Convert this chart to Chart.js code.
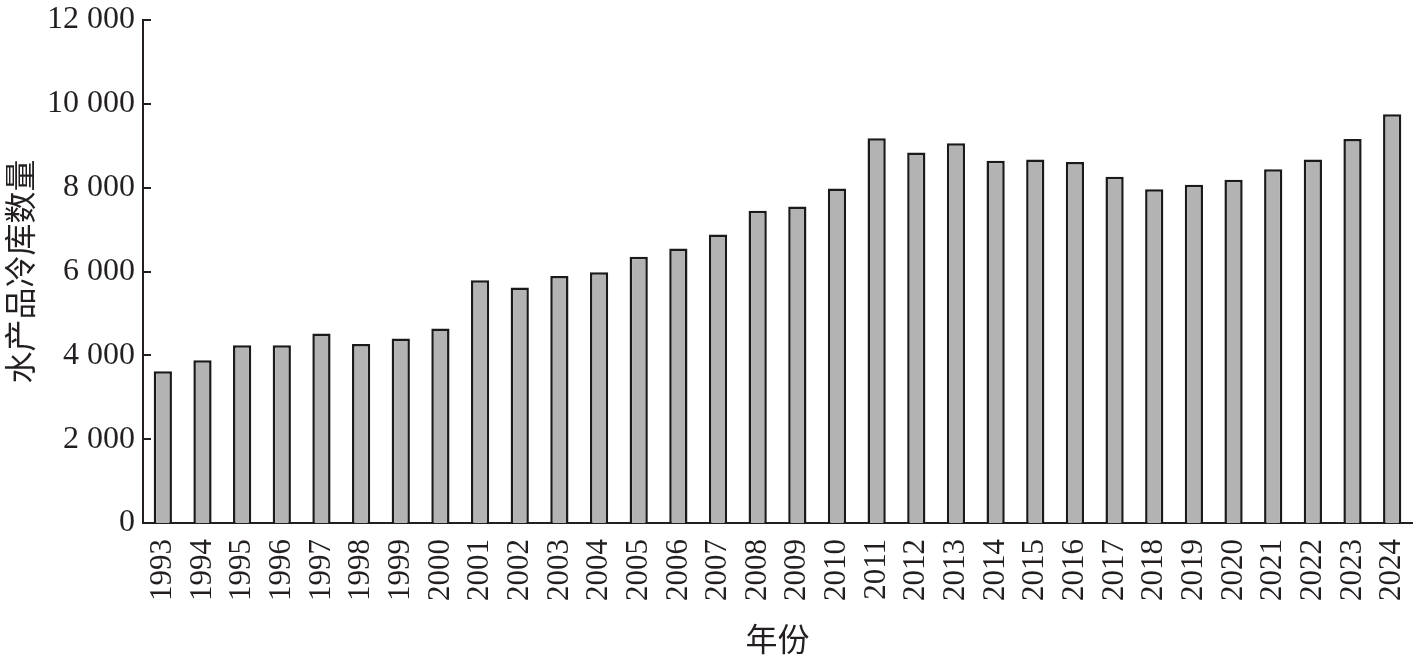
<!DOCTYPE html>
<html>
<head>
<meta charset="utf-8">
<script src="https://cdn.jsdelivr.net/npm/chart.js@4"></script>
<style>
  html, body { margin: 0; padding: 0; background: #fff; }
  #wrap { width: 1414px; height: 662px; }
</style>
</head>
<body>
<div id="wrap"><canvas id="coldStorageChart" width="1414" height="662"></canvas></div>
<script>
const years = [
  '1993', '1994', '1995', '1996', '1997', '1998', '1999', '2000',
  '2001', '2002', '2003', '2004', '2005', '2006', '2007', '2008',
  '2009', '2010', '2011', '2012', '2013', '2014', '2015', '2016',
  '2017', '2018', '2019', '2020', '2021', '2022', '2023', '2024'
];
const storageCount = [
  3620, 3880, 4240, 4240, 4520, 4270, 4400, 4640,
  5790, 5620, 5890, 5980, 6350, 6550, 6880, 7450,
  7550, 7980, 9180, 8840, 9060, 8640, 8670, 8610,
  8260, 7960, 8070, 8190, 8440, 8670, 9160, 9750
];
const yTickLabels = ['0', '2 000', '4 000', '6 000', '8 000', '10 000', '12 000'];

const ink = '#231f20';
const serif = "'Liberation Serif', 'Noto Sans CJK SC', serif";

// short tick marks drawn inward from the y axis
const innerTicks = {
  id: 'innerTicks',
  afterDraw(chart) {
    const y = chart.scales.y;
    const c = chart.ctx;
    c.save();
    c.strokeStyle = ink;
    c.lineWidth = 2;
    y.ticks.forEach((t, i) => {
      const py = Math.round(y.getPixelForTick(i));
      c.beginPath();
      c.moveTo(y.right, py);
      c.lineTo(y.right + 8, py);
      c.stroke();
    });
    c.restore();
  }
};

new Chart(document.getElementById('coldStorageChart'), {
  type: 'bar',
  data: {
    labels: years,
    datasets: [{
      data: storageCount,
      backgroundColor: '#b3b3b3',
      borderColor: '#1a1a1a',
      borderWidth: 2.5,
      categoryPercentage: 1,
      barPercentage: 0.46
    }]
  },
  options: {
    responsive: false,
    animation: false,
    layout: { padding: { top: 20, right: 2, left: 0, bottom: 0 } },
    plugins: { legend: { display: false }, tooltip: { enabled: false } },
    scales: {
      x: {
        grid: { display: false, drawTicks: false },
        border: { color: ink, width: 2 },
        ticks: {
          autoSkip: false, maxRotation: 90, minRotation: 90,
          padding: 16, color: ink,
          font: { family: serif, size: 31 }
        },
        title: {
          display: true, text: '年份', color: ink,
          font: { family: serif, size: 32 },
          padding: { top: 6, bottom: 0 }
        },
        afterFit(scale) {
          scale.height = 139;
          scale.paddingLeft = 0;
          scale.paddingRight = 0;
        }
      },
      y: {
        min: 0, max: 12000,
        grid: { display: false, drawTicks: false },
        border: { color: ink, width: 2 },
        ticks: {
          stepSize: 2000, padding: 8, color: ink,
          font: { family: serif, size: 32 },
          callback: (v, i) => yTickLabels[i]
        },
        title: {
          display: true, text: '水产品冷库数量', color: ink,
          font: { family: serif, size: 32 },
          padding: { top: 4, bottom: 0 }
        },
        afterFit(scale) {
          scale.width = 143;
          scale.paddingTop = 0;
          scale.paddingBottom = 0;
        }
      }
    }
  },
  plugins: [innerTicks]
});
</script>
</body>
</html>
